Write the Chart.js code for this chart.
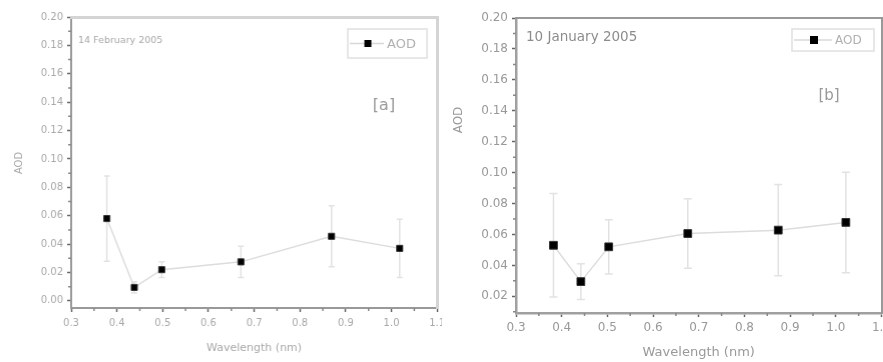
<!DOCTYPE html>
<html>
<head>
<meta charset="utf-8">
<script src="https://cdn.jsdelivr.net/npm/chart.js@4.4.1/dist/chart.umd.min.js"></script>
<style>
  html, body { margin: 0; padding: 0; background: #fff; }
  body { width: 883px; height: 362px; position: relative; overflow: hidden; }
  .panel { position: absolute; top: 0; height: 362px; }
  #panelA { left: 0; width: 441.5px; }
  #panelB { left: 440px; width: 448px; }
</style>
</head>
<body>
<div class="panel" id="panelA"><canvas id="chartA"></canvas></div>
<div class="panel" id="panelB"><canvas id="chartB"></canvas></div>
<script>
// wavelength (µm on the axis, labelled nm in the original)
const wavelengthA = [0.378, 0.438, 0.498, 0.671, 0.869, 1.018];
const aodA = [0.058, 0.0095, 0.022, 0.0275, 0.0455, 0.037];
const errA = [0.030, 0.004, 0.0055, 0.011, 0.0215, 0.0205];

const wavelengthB = [0.382, 0.442, 0.503, 0.676, 0.874, 1.022];
const aodB = [0.053, 0.0295, 0.052, 0.0606, 0.0628, 0.0678];
const errB = [0.0335, 0.0115, 0.0175, 0.0225, 0.0295, 0.0325];

const xTicks = [0.3, 0.4, 0.5, 0.6, 0.7, 0.8, 0.9, 1.0, 1.1];
const yTicksA = [0.00, 0.02, 0.04, 0.06, 0.08, 0.10, 0.12, 0.14, 0.16, 0.18, 0.20];
const yTicksB = [0.02, 0.04, 0.06, 0.08, 0.10, 0.12, 0.14, 0.16, 0.18, 0.20];

const FONT = 'DejaVu Sans';

// error bars, minor ticks, legend and in-plot notes
const extras = {
  id: 'extras',
  beforeDatasetsDraw(chart, args, o) {
    const {ctx, scales: {x, y}} = chart;
    const ds = chart.data.datasets[0];
    ctx.save();
    ctx.strokeStyle = '#e2e2e2';
    ctx.lineWidth = o.errWidth;
    ds.data.forEach((p, i) => {
      const px = x.getPixelForValue(p.x);
      const top = y.getPixelForValue(p.y + o.err[i]);
      const bot = y.getPixelForValue(p.y - o.err[i]);
      ctx.beginPath();
      ctx.moveTo(px, top); ctx.lineTo(px, bot);
      ctx.moveTo(px - o.cap, top); ctx.lineTo(px + o.cap, top);
      ctx.moveTo(px - o.cap, bot); ctx.lineTo(px + o.cap, bot);
      ctx.stroke();
    });
    ctx.restore();
  },
  afterDraw(chart, args, o) {
    const {ctx, chartArea: a, scales: {x, y}} = chart;
    ctx.save();
    // minor ticks
    ctx.strokeStyle = '#888';
    ctx.lineWidth = 1.5;
    ctx.beginPath();
    for (let i = 0; i < xTicks.length - 1; i++) {
      const px = x.getPixelForValue((xTicks[i] + xTicks[i + 1]) / 2);
      ctx.moveTo(px, a.bottom); ctx.lineTo(px, a.bottom + 3);
    }
    const yt = o.yTicks;
    for (let i = 0; i < yt.length - 1; i++) {
      const py = y.getPixelForValue((yt[i] + yt[i + 1]) / 2);
      ctx.moveTo(a.left, py); ctx.lineTo(a.left - 3, py);
    }
    if (o.extraMinor) {
      const py = y.getPixelForValue(o.extraMinor);
      ctx.moveTo(a.left, py); ctx.lineTo(a.left - 3, py);
    }
    ctx.stroke();

    // legend box
    const L = o.legend;
    ctx.strokeStyle = '#e0e0e0';
    ctx.lineWidth = 1.5;
    ctx.strokeRect(L.x, L.y, L.w, L.h);
    const cy = L.y + L.h / 2;
    ctx.strokeStyle = '#d8d8d8';
    ctx.beginPath();
    ctx.moveTo(L.x + 2, cy); ctx.lineTo(L.x + L.line, cy);
    ctx.stroke();
    ctx.fillStyle = '#000';
    ctx.fillRect(L.x + L.line / 2 + 2 - L.mk / 2, cy - L.mk / 2, L.mk, L.mk);
    ctx.fillStyle = '#b0b0b0';
    ctx.font = L.font + 'px ' + FONT;
    ctx.textBaseline = 'middle';
    ctx.textAlign = 'left';
    ctx.fillText(chart.data.datasets[0].label, L.x + L.line + 3, cy + 1);

    // notes
    o.notes.forEach(n => {
      ctx.save();
      ctx.fillStyle = n.color;
      ctx.font = n.size + 'px ' + FONT;
      ctx.textAlign = n.align || 'left';
      ctx.textBaseline = 'middle';
      ctx.translate(n.x, n.y);
      if (n.rot) ctx.rotate(n.rot);
      ctx.fillText(n.text, 0, 0);
      ctx.restore();
    });
    ctx.restore();
  }
};

// bare axis used only as the top / right frame line
function frameAxis(position, min, max, color, width) {
  return {
    type: 'linear', position, min, max,
    ticks: { display: false },
    grid: { display: false, drawTicks: false },
    border: { display: true, color, width },
    afterFit: s => { if (s.isHorizontal()) s.height = 0; else s.width = 0; }
  };
}

function makeChart(id, xs, ys, errs, cfg) {
  return new Chart(document.getElementById(id), {
    type: 'scatter',
    data: {
      datasets: [{
        label: 'AOD',
        data: xs.map((v, i) => ({x: v, y: ys[i]})),
        showLine: true,
        borderColor: '#dcdcdc',
        borderWidth: 1.5,
        pointStyle: 'rect',
        pointRadius: cfg.pointRadius,
        pointBackgroundColor: '#000',
        pointBorderColor: '#333',
        pointBorderWidth: 1
      }]
    },
    options: {
      responsive: true,
      maintainAspectRatio: false,
      animation: false,
      layout: { padding: { top: cfg.top, right: cfg.right, left: 0, bottom: 0 } },
      plugins: {
        legend: { display: false },
        tooltip: { enabled: false },
        extras: cfg.extras
      },
      scales: {
        x: {
          type: 'linear',
          min: 0.3, max: 1.1,
          afterBuildTicks: s => { s.ticks = xTicks.map(v => ({value: v})); },
          afterFit: s => { s.height = cfg.xHeight; s.paddingLeft = 0; s.paddingRight = 0; },
          grid: { drawOnChartArea: false, tickLength: 4, tickColor: '#666', tickWidth: 1.5 },
          border: { color: cfg.axisColor, width: cfg.axisWidth },
          ticks: {
            color: cfg.tickColor, padding: cfg.xPad, maxRotation: 0, autoSkip: false,
            font: { family: FONT, size: cfg.tickSize },
            callback: v => v.toFixed(1)
          },
          title: {
            display: true, text: 'Wavelength (nm)', color: cfg.tickColor,
            font: { family: FONT, size: cfg.xTitleSize }, padding: { top: 0, bottom: cfg.xTitlePad }
          }
        },
        y: {
          min: cfg.yMin, max: 0.20,
          afterBuildTicks: s => { s.ticks = cfg.yTicks.map(v => ({value: v})); },
          afterFit: s => { s.width = cfg.yWidth; s.paddingTop = 0; s.paddingBottom = 0; },
          grid: { drawOnChartArea: false, tickLength: 4, tickColor: '#666', tickWidth: 1.5 },
          border: { color: cfg.axisColor, width: cfg.axisWidth },
          ticks: {
            color: cfg.tickColor, padding: 4, autoSkip: false,
            font: { family: FONT, size: cfg.tickSize },
            callback: v => v.toFixed(2)
          },
          title: { display: false }
        },
        xTop: frameAxis('top', 0.3, 1.1, cfg.frame[0], cfg.frame[1]),
        yRight: frameAxis('right', cfg.yMin, 0.20, cfg.frame[0], cfg.frame[1])
      }
    },
    plugins: [extras]
  });
}

makeChart('chartA', wavelengthA, aodA, errA, {
  top: 17, right: 5, xHeight: 54, yWidth: 71, yMin: -0.005, yTicks: yTicksA,
  pointRadius: 4.3, axisColor: '#999', axisWidth: 2, tickColor: '#a8a8a8',
  tickSize: 10, xPad: 5, xTitleSize: 11, xTitlePad: 7,
  frame: ['#d4d4d4', 3],
  extras: {
    err: errA, errWidth: 1.5, cap: 3, yTicks: yTicksA,
    legend: { x: 347, y: 29, w: 79, h: 29, line: 36, mk: 7, font: 13 },
    notes: [
      { text: '14 February 2005', x: 78, y: 41, size: 9.5, color: '#a8a8a8' },
      { text: '[a]', x: 383, y: 106, size: 16, color: '#999', align: 'center' },
      { text: 'AOD', x: 19, y: 163, size: 10, color: '#a8a8a8', align: 'center', rot: -Math.PI / 2 }
    ]
  }
});

makeChart('chartB', wavelengthB, aodB, errB, {
  top: 18, right: 2, xHeight: 49, yWidth: 76, yMin: 0.0092, yTicks: yTicksB,
  pointRadius: 5.5, axisColor: '#a0a0a0', axisWidth: 2.5, tickColor: '#999',
  tickSize: 12, xPad: 4, xTitleSize: 13, xTitlePad: 2,
  frame: ['#999', 2],
  extras: {
    err: errB, errWidth: 1.5, cap: 4, yTicks: yTicksB, extraMinor: 0.01,
    legend: { x: 352, y: 29, w: 82, h: 22, line: 40, mk: 8, font: 12 },
    notes: [
      { text: '10 January 2005', x: 86, y: 37, size: 13.5, color: '#8c8c8c' },
      { text: '[b]', x: 389, y: 96, size: 15, color: '#999', align: 'center' },
      { text: 'AOD', x: 19, y: 120, size: 12, color: '#999', align: 'center', rot: -Math.PI / 2 }
    ]
  }
});
</script>
</body>
</html>
